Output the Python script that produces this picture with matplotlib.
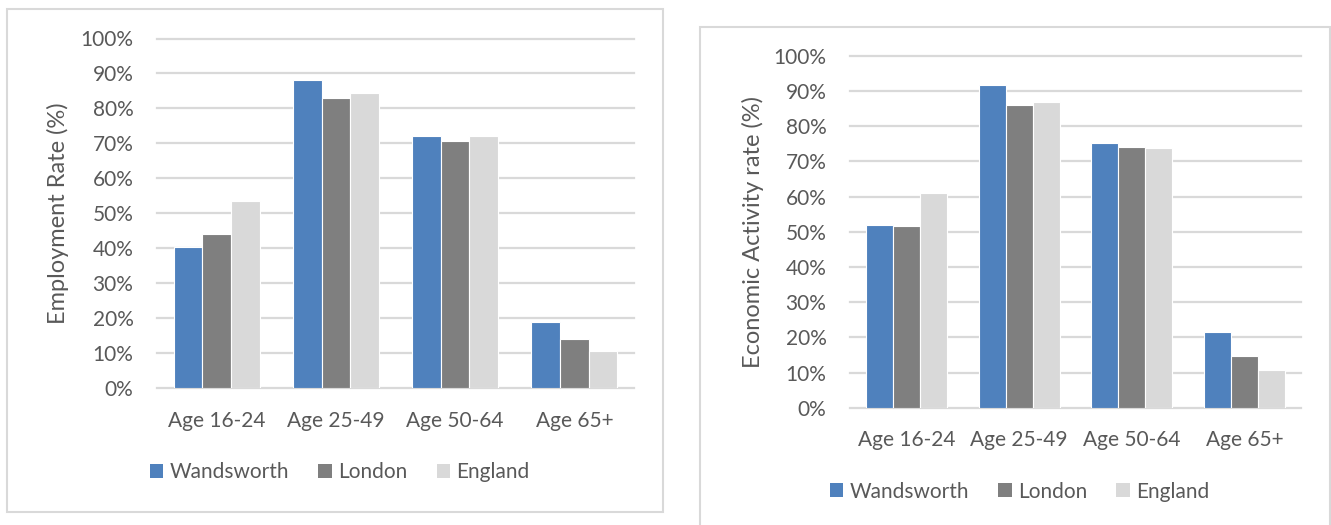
import matplotlib
matplotlib.use("Agg")
import matplotlib.pyplot as plt
from matplotlib.patches import Rectangle, Patch
import numpy as np

plt.rcParams['font.family'] = ['Lato', 'DejaVu Sans']

categories = ["Age 16-24", "Age 25-49", "Age 50-64", "Age 65+"]
series_names = ["Wandsworth", "London", "England"]
colors = ["#4F81BD", "#7F7F7F", "#D9D9D9"]

employment_wandsworth = [40.4, 88.1, 72.0, 19.0]
employment_london = [44.1, 83.0, 70.8, 14.1]
employment_england = [53.6, 84.3, 72.2, 10.7]

activity_wandsworth = [52.0, 91.7, 75.3, 21.5]
activity_london = [51.6, 86.1, 74.1, 14.6]
activity_england = [61.1, 86.9, 73.9, 10.6]

yticks = list(range(0, 101, 10))
ytick_labels = [f"{v}%" for v in yticks]

TEXT = "#595959"
GRID = "#D9D9D9"
FS = 15
LABEL_FS = 17

W, H = 1331, 525
fig = plt.figure(figsize=(W / 100, H / 100), dpi=100)


def px_axes(x0, y0, x1, y1):
    return fig.add_axes([x0 / W, 1 - y1 / H, (x1 - x0) / W, (y1 - y0) / H])


def frame(x0, y0, x1, y1):
    fig.patches.append(Rectangle((x0 / W, 1 - y1 / H), (x1 - x0) / W, (y1 - y0) / H,
                                 transform=fig.transFigure, fill=False,
                                 edgecolor=GRID, linewidth=1.5, zorder=0))


def bar_chart(ax, data, ylabel, label_x):
    x = np.arange(len(categories))
    bw = 0.24
    for i, (vals, c) in enumerate(zip(data, colors)):
        ax.bar(x + (i - 1) * bw, np.array(vals) / 100.0, width=bw, color=c,
               edgecolor="white", linewidth=0.8, zorder=3)
    ax.set_xlim(-0.5, len(categories) - 0.5)
    ax.set_ylim(0, 1)
    for t in yticks:
        ax.axhline(t / 100.0, color=GRID, linewidth=1.6, zorder=1, clip_on=False)
    ax.set_yticks([t / 100.0 for t in yticks])
    ax.set_yticklabels(ytick_labels)
    ax.set_xticks(x)
    ax.set_xticklabels(categories)
    ax.tick_params(axis="y", length=0, pad=17, labelsize=FS, labelcolor=TEXT)
    ax.tick_params(axis="x", length=0, pad=16, labelsize=FS, labelcolor=TEXT)
    for s in ax.spines.values():
        s.set_visible(False)
    ax.set_ylabel(ylabel, fontsize=LABEL_FS, color=TEXT)
    ax.yaxis.set_label_coords(label_x, 0.5)


frame(6.7, 9.3, 663.3, 511.7)
frame(700, 27.3, 1330, 540)

ax1 = px_axes(157, 38.5, 634, 388.3)
bar_chart(ax1, [employment_wandsworth, employment_london, employment_england],
          "Employment Rate (%)", -0.1845)

ax2 = px_axes(850, 55.9, 1301, 407.8)
bar_chart(ax2, [activity_wandsworth, activity_london, activity_england],
          "Economic Activity rate (%)", -0.1907)

handles = [Patch(facecolor=c, edgecolor="none", label=n) for n, c in zip(series_names, colors)]
for cx, cy in [(339.7, 472.5), (1019.5, 491.5)]:
    fig.legend(handles=handles, loc="center", bbox_to_anchor=(cx / W, 1 - cy / H),
               ncol=3, frameon=False, fontsize=FS, labelcolor=TEXT,
               handlelength=0.65, handleheight=0.65, handletextpad=0.3,
               columnspacing=1.4, borderpad=0, borderaxespad=0)

fig.savefig("out.png", dpi=100)
